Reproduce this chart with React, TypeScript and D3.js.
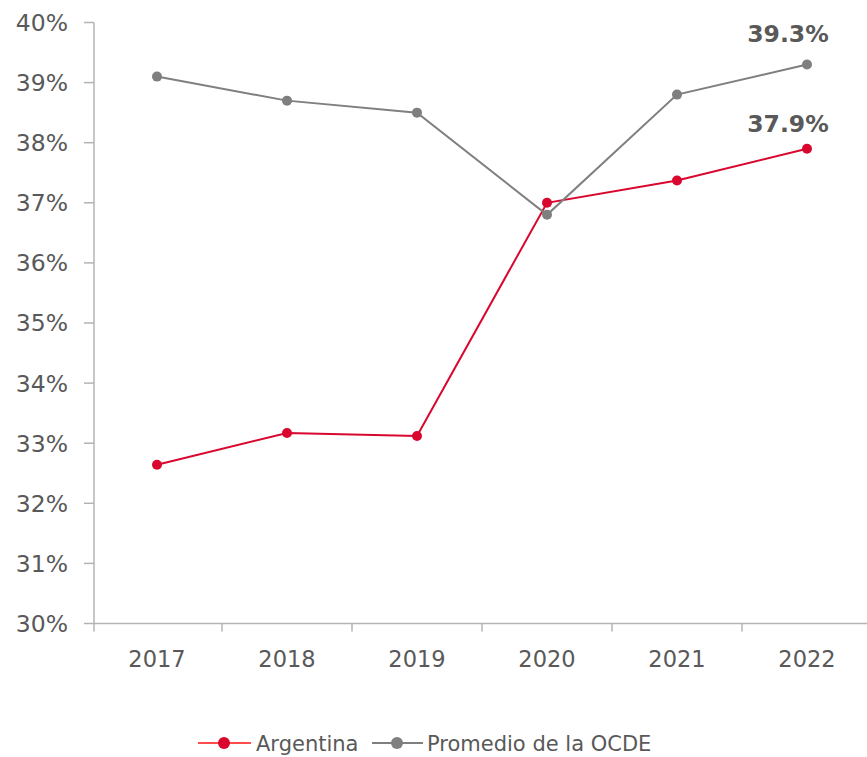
import React from "react";
import * as d3 from "d3";

const years = ["2017", "2018", "2019", "2020", "2021", "2022"];
const argentina = [32.64, 33.17, 33.12, 37.0, 37.37, 37.9];
const ocde = [39.1, 38.7, 38.5, 36.8, 38.8, 39.3];
const yTicks = [30, 31, 32, 33, 34, 35, 36, 37, 38, 39, 40];
const seriesNames = ["Argentina", "Promedio de la OCDE"];

const W = 867;
const H = 757;
const RED = "#d9072e";
const GRAY = "#7f7f7f";
const TEXT = "#595959";
const AXIS = "#b3b3b3";
const FONT = "'DejaVu Sans', sans-serif";

export default function App() {
  const x = d3.scaleBand<string>().domain(years).range([92, 872]);
  const y = d3.scaleLinear().domain([30, 40]).range([623.5, 22.5]);
  const cx = (d: string) => (x(d) as number) + x.bandwidth() / 2;
  const line = d3
    .line<number>()
    .x((_, i) => cx(years[i]))
    .y((v) => y(v));
  const axisX = 94;
  const bandEdges = years.slice(1).map((d) => x(d) as number);

  const series = [
    { name: seriesNames[0], values: argentina, color: RED },
    { name: seriesNames[1], values: ocde, color: GRAY },
  ];

  return (
    <div style={{ position: "absolute", left: 0, top: 0 }}>
      <svg width={W} height={H} style={{ display: "block", fontFamily: FONT }}>
        <rect width={W} height={H} fill="#fff" />
        {/* y axis */}
        <line x1={axisX} x2={axisX} y1={y(40)} y2={y(30) + 8} stroke={AXIS} strokeWidth={1.5} />
        {yTicks.map((t) => (
          <g key={t}>
            <line x1={axisX - 10} x2={axisX} y1={y(t)} y2={y(t)} stroke={AXIS} strokeWidth={1.5} />
            <text x={68} y={y(t)} dy="0.36em" textAnchor="end" fontSize={23.5} fill={TEXT}>
              {t}%
            </text>
          </g>
        ))}
        {/* x axis */}
        <line x1={axisX} x2={W} y1={y(30)} y2={y(30)} stroke={AXIS} strokeWidth={1.5} />
        {bandEdges.map((e, i) => (
          <line key={i} x1={e} x2={e} y1={y(30)} y2={y(30) + 8} stroke={AXIS} strokeWidth={1.5} />
        ))}
        {years.map((d) => (
          <text key={d} x={cx(d)} y={667} textAnchor="middle" fontSize={22.5} fill={TEXT}>
            {d}
          </text>
        ))}
        {/* series */}
        {series.map((s) => (
          <g key={s.name}>
            <path d={line(s.values) || ""} fill="none" stroke={s.color} strokeWidth={2} />
            {s.values.map((v, i) => (
              <circle key={i} cx={cx(years[i])} cy={y(v)} r={5} fill={s.color} />
            ))}
          </g>
        ))}
        {/* end labels */}
        <text x={cx("2022") - 19} y={y(ocde[5]) - 23} textAnchor="middle" fontSize={23.5} fontWeight="bold" fill={TEXT}>
          {ocde[5].toFixed(1)}%
        </text>
        <text x={cx("2022") - 19} y={y(argentina[5]) - 17} textAnchor="middle" fontSize={23.5} fontWeight="bold" fill={TEXT}>
          {argentina[5].toFixed(1)}%
        </text>
        {/* legend */}
        <g>
          <line x1={198} x2={251} y1={743} y2={743} stroke="#ff4d4d" strokeWidth={2} />
          <circle cx={224} cy={743} r={6} fill={RED} />
          <text x={256} y={743} dy="0.36em" fontSize={21} fill={TEXT}>
            {seriesNames[0]}
          </text>
          <line x1={372} x2={423} y1={743} y2={743} stroke={GRAY} strokeWidth={2} />
          <circle cx={397} cy={743} r={6} fill={GRAY} />
          <text x={427} y={743} dy="0.36em" fontSize={21} fill={TEXT}>
            {seriesNames[1]}
          </text>
        </g>
      </svg>
    </div>
  );
}
